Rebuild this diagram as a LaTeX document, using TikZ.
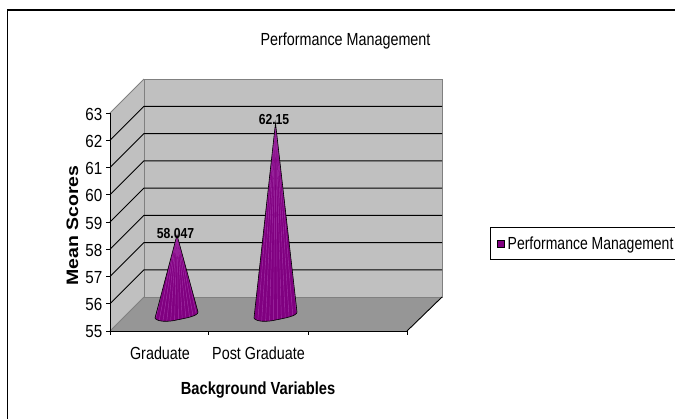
\documentclass[tikz,border=0pt]{standalone}
\usepackage{fontspec}
\setmainfont{Liberation Sans}
\usepackage{graphicx}

\definecolor{wallgray}{HTML}{C0C0C0}
\definecolor{floorgray}{HTML}{969696}
\definecolor{edgegray}{HTML}{808080}
\definecolor{conepurple}{HTML}{800080}
\definecolor{conestripe}{HTML}{B048B8}

% narrow horizontal squeeze used for all chart text
\newcommand\narrowtext[2][0.82]{\scalebox{#1}[1]{#2}}

\begin{document}
\begin{tikzpicture}[x=1pt,y=-1pt,
  plainlbl/.style={font=\fontsize{17.5}{20}\selectfont, inner sep=0pt},
  boldlbl/.style={font=\fontsize{17.5}{20}\selectfont\bfseries, inner sep=0pt},
  datalbl/.style={font=\fontsize{14.5}{16}\selectfont\bfseries, inner sep=0pt},
  gridline/.style={black, line width=1pt},
  walledge/.style={edgegray, line width=0.9pt},
  axisline/.style={black, line width=0.9pt},
  coneline/.style={black, line width=0.6pt}
]
\useasboundingbox (0,0) rectangle (675,418);

% outer frame (top and left edges)
\draw[line width=1.5pt] (7.5,430) -- (7.5,10) -- (690,10);

% walls and floor
\coordinate (fl) at (110,331);
\coordinate (fr) at (407,331);
\coordinate (bl) at (144,297);
\coordinate (br) at (442,297);
\coordinate (bt) at (144,79);
\coordinate (brt) at (442,79);
\coordinate (ft) at (110,113);
\fill[wallgray] (bl) rectangle (brt);
\fill[wallgray] (ft) -- (bt) -- (bl) -- (fl) -- cycle;
\fill[floorgray] (fl) -- (bl) -- (br) -- (fr) -- cycle;
\draw[walledge] (bl) rectangle (brt);
\draw[walledge] (ft) -- (bt);
\draw[walledge] (fl) -- (bl);
\draw[axisline] (fr) -- (br);

% gridlines across the side wall and back wall
\foreach \k in {56,...,62} {
  \draw[gridline] (110,{331-(\k-55)*27.25}) -- (144,{297-(\k-55)*27.25}) -- (442,{297-(\k-55)*27.25});
}

% value axis with ticks and labels
\draw[axisline] (ft) -- (fl) -- (fr);
\foreach \k in {55,...,63} {
  \draw[axisline] (106,{331-(\k-55)*27.25}) -- (110,{331-(\k-55)*27.25});
  \node[plainlbl, anchor=east] (tick\k) at (102.5,{332-(\k-55)*27.25}) {\narrowtext[0.87]{\k}};
}
% category axis ticks
\foreach \x in {110,208.5,308,407} {
  \draw[axisline] (\x,331) -- (\x,335);
}

% cones
\foreach \cx/\ax/\ay in {176.5/177/235, 275.5/275.5/123} {
  \begin{scope}
    \path[clip] (\cx-21.5,318) .. controls (\cx-19.5,322) and (\cx-8,322) .. (\cx,320)
      .. controls (\cx+10,318) and (\cx+21.5,316) .. (\cx+21.5,312) -- (\ax,\ay) -- cycle;
    \fill[conepurple] (\cx-30,\ay-5) rectangle (\cx+30,330);
    \foreach \s in {-22,-18,...,22} {
      \draw[conestripe, line width=0.45pt, opacity=0.7] (\cx+\s,324) -- (\ax+\s*0.08,\ay);
    }
  \end{scope}
  \draw[coneline] (\cx-21.5,318) .. controls (\cx-19.5,322) and (\cx-8,322) .. (\cx,320)
    .. controls (\cx+10,318) and (\cx+21.5,316) .. (\cx+21.5,312) -- (\ax,\ay) -- cycle;
}

% data labels
\node[datalbl, anchor=base] (valgrad) at (175.5,238) {\narrowtext[0.84]{58.047}};
\node[datalbl, anchor=base] (valpost) at (274,124) {\narrowtext[0.84]{62.15}};

% category labels
\node[plainlbl, anchor=base] (catgrad) at (160,359) {\narrowtext{Graduate}};
\node[plainlbl, anchor=base] (catpost) at (258.5,359) {\narrowtext{Post Graduate}};

% titles
\node[plainlbl, anchor=base] (title) at (345.5,45) {\narrowtext{Performance Management}};
\node[boldlbl, anchor=base] (xtitle) at (258,394) {\narrowtext[0.84]{Background Variables}};
\node[font=\fontsize{19.5}{22}\selectfont\bfseries, inner sep=0pt, rotate=90] (ytitle) at (72.5,225.5)
  {\scalebox{1}[0.85]{Mean Scores}};

% legend
\draw[line width=0.9pt] (490,227) rectangle (700,259);
\draw[fill=conepurple, line width=0.7pt] (497,240) rectangle (504,247);
\node[plainlbl, anchor=base west] (legtext) at (507.5,249) {\narrowtext[0.8]{Performance Management}};
\end{tikzpicture}
\end{document}
